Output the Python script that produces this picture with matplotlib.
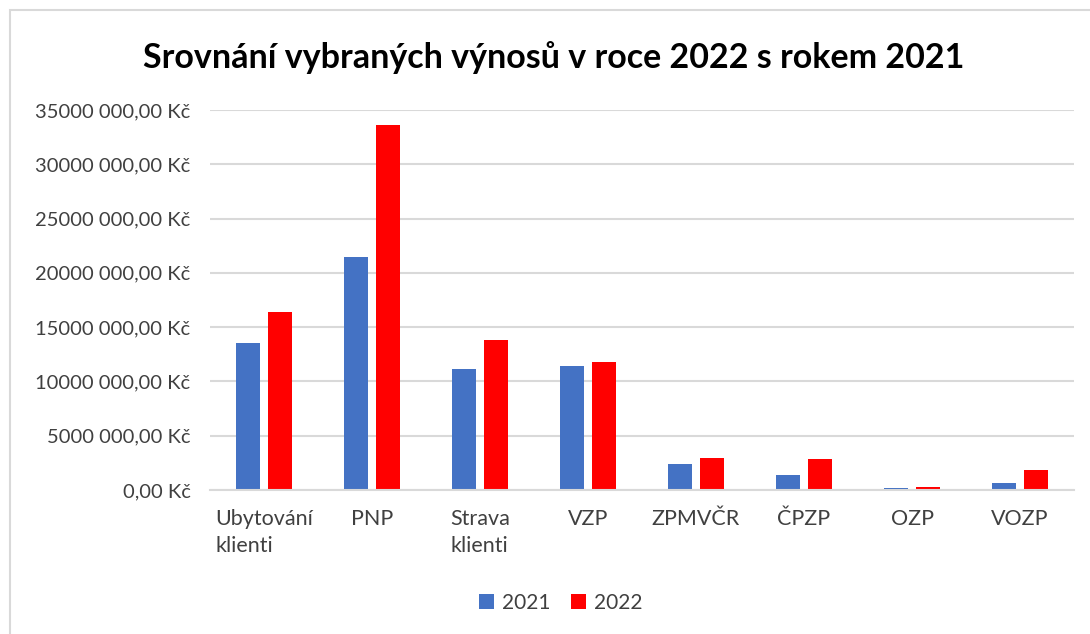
import matplotlib.pyplot as plt
import numpy as np
from matplotlib.patches import Rectangle
from matplotlib.ticker import FuncFormatter

categories = ["Ubytování\nklienti", "PNP", "Strava\nklienti", "VZP", "ZPMVČR", "ČPZP", "OZP", "VOZP"]
vals_2021 = [13.5e6, 21.45e6, 11.15e6, 11.4e6, 2.4e6, 1.35e6, 0.16e6, 0.62e6]
vals_2022 = [16.37e6, 33.6e6, 13.85e6, 11.8e6, 2.95e6, 2.85e6, 0.25e6, 1.82e6]
y_ticks = np.arange(0, 35e6 + 1, 5e6)

COL_2021 = "#4472C4"
COL_2022 = "#FF0000"
COL_GRID = "#D9D9D9"
COL_TEXT = "#404040"
FONT = ["Lato", "DejaVu Sans"]

fig = plt.figure(figsize=(10.9, 6.34), dpi=100)
fig.patches.append(Rectangle((10 / 1090, -0.1), 1.2, 1 - 10 / 634 + 0.1,
                             transform=fig.transFigure, fill=False,
                             edgecolor=COL_GRID, linewidth=1.5))

ax = fig.add_axes([210 / 1090, (634 - 490) / 634, 864 / 1090, 380 / 634])
x = np.arange(len(categories))
w = 0.23
off = 0.148
ax.bar(x - off, vals_2021, w, color=COL_2021, label="2021", zorder=3)
ax.bar(x + off, vals_2022, w, color=COL_2022, label="2022", zorder=3)

ax.set_xlim(-0.5, len(categories) - 0.5)
ax.set_ylim(0, 35e6)
ax.set_yticks(y_ticks)
ax.yaxis.set_major_formatter(FuncFormatter(
    lambda v, p: f"{int(v // 1000)} 000,00 Kč" if v > 0 else "0,00 Kč"))
ax.grid(axis="y", color=COL_GRID, linewidth=1.5, zorder=0)
ax.set_axisbelow(True)
for s in ["top", "right", "left"]:
    ax.spines[s].set_visible(False)
ax.spines["bottom"].set_color(COL_GRID)
ax.spines["bottom"].set_linewidth(1.5)
ax.spines["bottom"].set_zorder(4)
ax.tick_params(axis="y", length=0, pad=14, labelsize=14.5, labelcolor=COL_TEXT)
ax.tick_params(axis="x", length=0)
for lab in ax.get_yticklabels():
    lab.set_family(FONT)

ax.set_xticks(x)
ax.set_xticklabels([])
for xi, cat in zip(x, categories):
    ax.text(xi, -0.05, cat, transform=ax.get_xaxis_transform(), ha="center", va="top",
            multialignment="left", fontsize=15.5, color=COL_TEXT, family=FONT,
            linespacing=1.45)

fig.text(554 / 1090, 1 - 58 / 634, "Srovnání vybraných výnosů v roce 2022 s rokem 2021",
         ha="center", va="center", fontsize=24.5, fontweight="bold", color="black", family=FONT)

leg = fig.legend(loc="center", bbox_to_anchor=(561 / 1090, 1 - 603 / 634), ncol=2, frameon=False,
                 prop={"family": FONT, "size": 15}, handlelength=0.7, handleheight=0.7,
                 handletextpad=0.4, columnspacing=1.0)
for t in leg.get_texts():
    t.set_color(COL_TEXT)

fig.savefig("out.png", dpi=100)
